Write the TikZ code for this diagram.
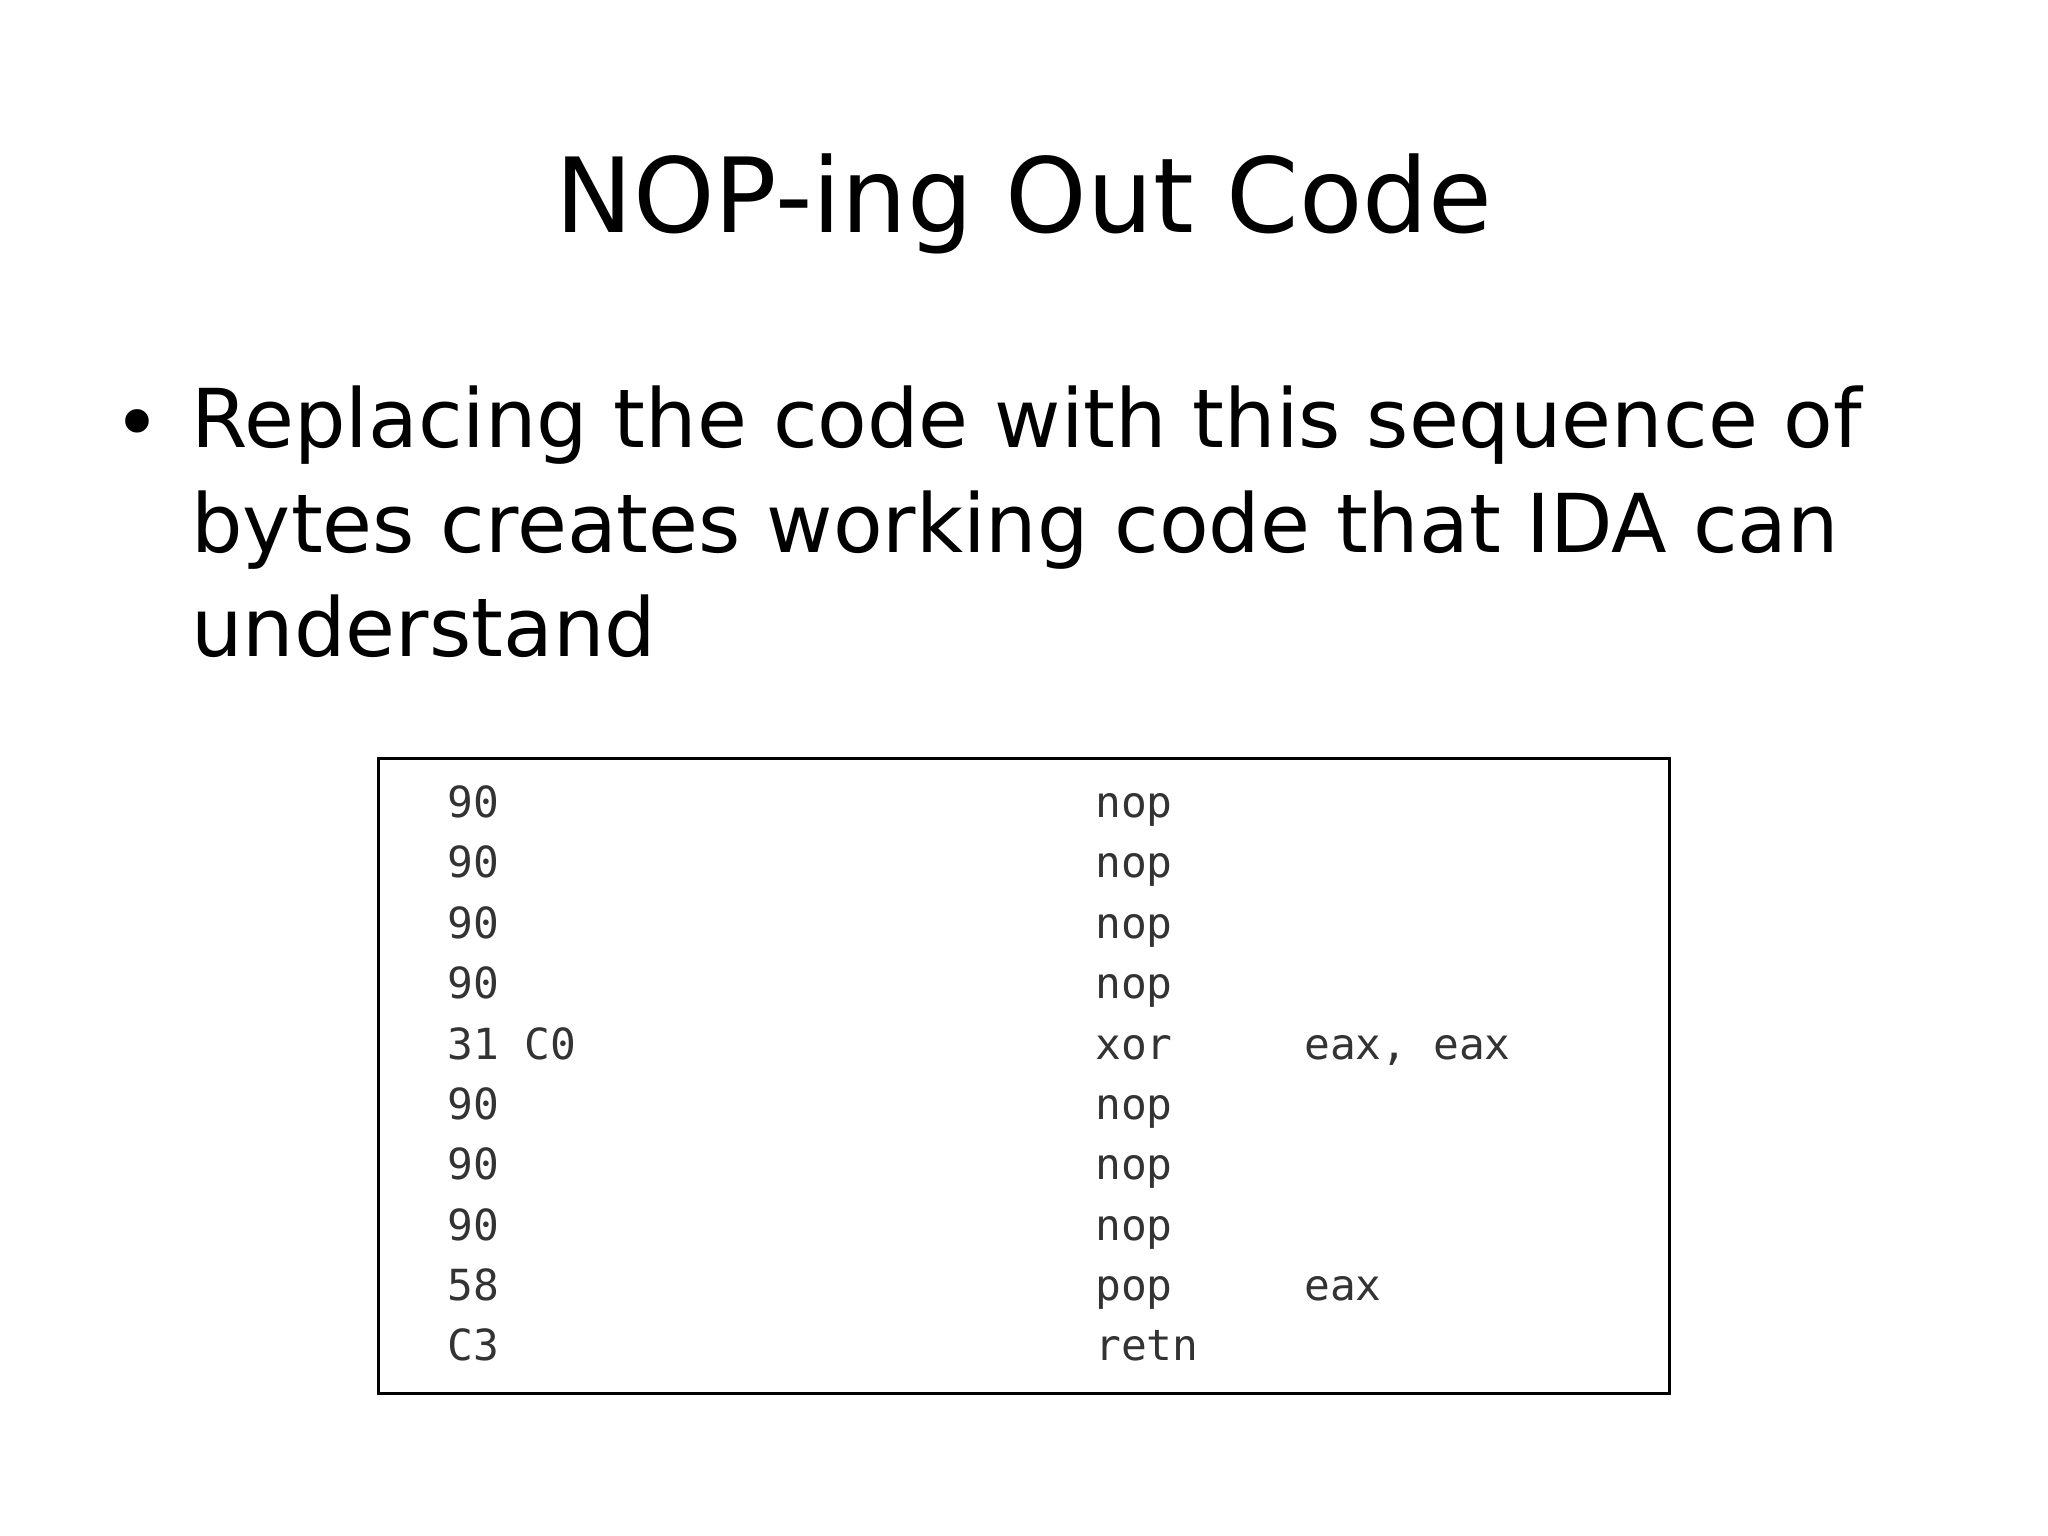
\documentclass[tikz,border=0pt]{standalone}
\usepackage{fontspec}
\setmainfont{DejaVu Sans}
\newfontfamily\codefont{DejaVu Sans Mono}
\definecolor{codegray}{HTML}{333333}
\begin{document}
\begin{tikzpicture}[x=0.013061cm,y=-0.013061cm,
  code/.style={anchor=base west,inner sep=0pt,font=\codefont\fontsize{12.2}{14}\selectfont,text=codegray}]
\useasboundingbox (0,0) rectangle (1568,1176);
\fill[white] (0,0) rectangle (1568,1176);
\node[inner sep=0pt,anchor=base,font=\fontsize{29.5}{35}\selectfont] (title) at (784,178) {NOP-ing Out Code};
\node[inner sep=0pt,anchor=base west,font=\fontsize{23.1}{29.7}\selectfont] (bul) at (86,346) {•};
\node[inner sep=0pt,anchor=north west,align=left,font=\fontsize{23.1}{29.7}\selectfont] (txt) at (146,295) {Replacing the code with this sequence of\\bytes creates working code that IDA can\\understand};
\draw[line width=0.8pt] (290,581) rectangle (1278,1067);
\foreach \i/\a/\b/\c in {0/90/nop/,1/90/nop/,2/90/nop/,3/90/nop/,4/31 C0/xor/{eax, eax},5/90/nop/,6/90/nop/,7/90/nop/,8/58/pop/eax,9/C3/retn/}{
  \node[code] (a\i) at (342,626+46.2*\i) {\a};
  \node[code] (b\i) at (838,626+46.2*\i) {\b};
  \node[code] (c\i) at (998,626+46.2*\i) {\c};
}
\end{tikzpicture}
\end{document}
